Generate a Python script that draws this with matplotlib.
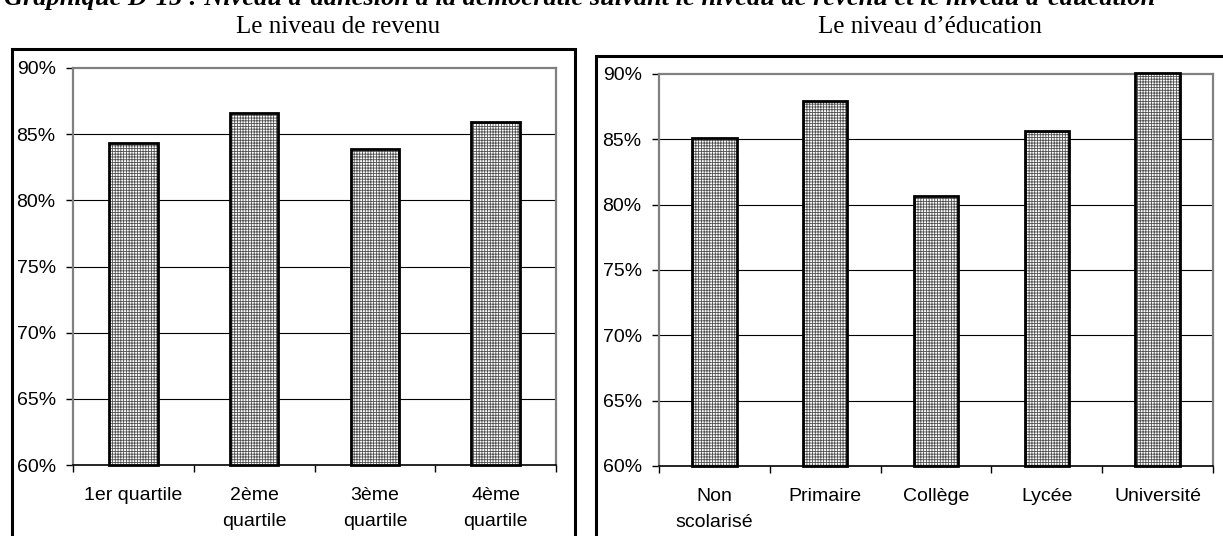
import matplotlib
matplotlib.use("Agg")
import matplotlib.pyplot as plt
from matplotlib.patches import Rectangle
import numpy as np

# data
revenu_labels = ["1er quartile", "2ème\nquartile", "3ème\nquartile", "4ème\nquartile"]
revenu_values = [84.3, 86.6, 83.9, 85.9]

education_labels = ["Non\nscolarisé", "Primaire", "Collège", "Lycée", "Université"]
education_values = [85.1, 87.9, 80.7, 85.6, 90.1]

y_ticks = [60, 65, 70, 75, 80, 85, 90]

title = "Graphique D-15 : Niveau d’adhésion à la démocratie suivant le niveau de revenu et le niveau d’éducation"
sub_left = "Le niveau de revenu"
sub_right = "Le niveau d’éducation"

plt.rcParams['font.family'] = ['Liberation Sans', 'DejaVu Sans']
plt.rcParams['hatch.linewidth'] = 0.6
plt.rcParams['hatch.color'] = '#505050'

W, H = 1223, 536
fig = plt.figure(figsize=(W / 100, H / 100), dpi=100)


def px_axes(x0, y0, x1, y1):
    # pixel box (top-left origin) -> figure fraction
    return [x0 / W, 1 - y1 / H, (x1 - x0) / W, (y1 - y0) / H]


def draw_panel(ax, labels, values):
    x = np.arange(len(values))
    heights = [v - 60 for v in values]
    ax.bar(x, heights, bottom=60, width=0.4, color='white', edgecolor='#505050',
           hatch='++++++', linewidth=0, zorder=3, clip_on=False)
    ax.bar(x, heights, bottom=60, width=0.4, fill=False, edgecolor='black',
           linewidth=2.0, zorder=4, clip_on=False)
    ax.set_xlim(-0.5, len(values) - 0.5)
    ax.set_ylim(60, 90)
    ax.set_yticks(y_ticks)
    ax.set_yticklabels([f"{t}%" for t in y_ticks], fontsize=14)
    ax.tick_params(axis='y', direction='out', length=5, width=1, pad=7.5, color='black')
    ax.set_xticks(x)
    ax.set_xticklabels(labels, fontsize=14, linespacing=1.65)
    ax.set_xticks(np.arange(len(values) + 1) - 0.5, minor=True)
    ax.tick_params(axis='x', which='major', length=0, pad=16)
    ax.tick_params(axis='x', which='minor', direction='out', length=5, width=1, color='black')
    for t in y_ticks[1:-1]:
        ax.axhline(t, color='black', linewidth=0.8, zorder=1)
    for s in ['top', 'right', 'left']:
        ax.spines[s].set_color('#808080')
        ax.spines[s].set_linewidth(1.6)
    ax.spines['bottom'].set_color('black')
    ax.spines['bottom'].set_linewidth(1.2)
    ax.set_facecolor('white')


# outer frames
fig.patches.append(Rectangle((12 / W, -30 / H), (575 - 12) / W, (536 + 30 - 49) / H,
                             transform=fig.transFigure, fill=False, edgecolor='black',
                             linewidth=2.2))
fig.patches.append(Rectangle((596 / W, -30 / H), (1260 - 596) / W, (536 + 30 - 56) / H,
                             transform=fig.transFigure, fill=False, edgecolor='black',
                             linewidth=2.2))

ax1 = fig.add_axes(px_axes(73, 68, 556, 465))
draw_panel(ax1, revenu_labels, revenu_values)

ax2 = fig.add_axes(px_axes(659, 74, 1213, 466))
draw_panel(ax2, education_labels, education_values)

fig.text(580 / W, 1 - 5 / H, title, ha='center', va='baseline', fontsize=19,
         family='Liberation Serif', weight='bold', style='italic')
fig.text(338 / W, 1 - 33 / H, sub_left, ha='center', va='baseline', fontsize=18,
         family='Liberation Serif')
fig.text(930 / W, 1 - 33 / H, sub_right, ha='center', va='baseline', fontsize=18,
         family='Liberation Serif')

fig.savefig("out.png", dpi=100)
